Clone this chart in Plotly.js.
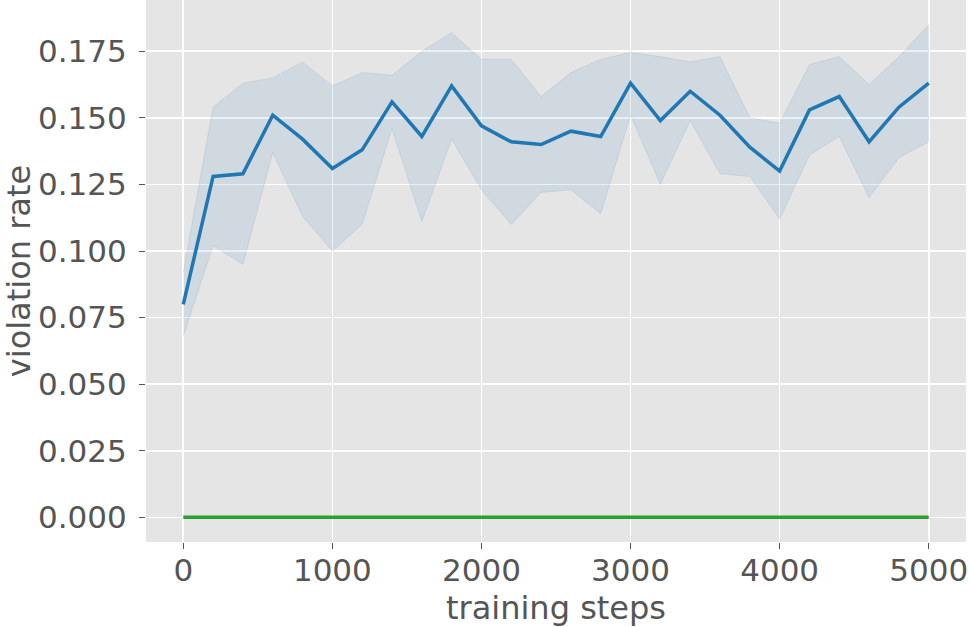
<!DOCTYPE html>
<html>
<head>
<meta charset="utf-8">
<script src="https://cdn.plot.ly/plotly-3.0.1.min.js"></script>
<style>html,body{margin:0;padding:0;background:#fff;}#chart{width:969px;height:627px;}</style>
</head>
<body>
<div id="chart"></div>
<script>
const steps = [0,200,400,600,800,1000,1200,1400,1600,1800,2000,2200,2400,2600,2800,3000,3200,3400,3600,3800,4000,4200,4400,4600,4800,5000];
const meanRate = [0.080,0.128,0.129,0.151,0.142,0.131,0.138,0.156,0.143,0.162,0.147,0.141,0.140,0.145,0.143,0.163,0.149,0.160,0.151,0.139,0.130,0.153,0.158,0.141,0.154,0.163];
const upperRate = [0.092,0.154,0.163,0.165,0.171,0.162,0.167,0.166,0.175,0.182,0.172,0.172,0.158,0.167,0.172,0.1745,0.173,0.171,0.173,0.150,0.148,0.170,0.173,0.1625,0.173,0.185];
const lowerRate = [0.068,0.102,0.095,0.137,0.113,0.100,0.110,0.146,0.111,0.142,0.123,0.110,0.122,0.123,0.114,0.151,0.125,0.149,0.129,0.128,0.112,0.136,0.143,0.120,0.135,0.141];
const baselineRate = [0,0,0,0,0,0,0,0,0,0,0,0,0,0,0,0,0,0,0,0,0,0,0,0,0,0];
const yTicks = [0,0.025,0.05,0.075,0.1,0.125,0.15,0.175];
const xTicks = [0,1000,2000,3000,4000,5000];

const bandX = steps.concat(steps.slice().reverse());
const bandY = upperRate.concat(lowerRate.slice().reverse());

const traces = [
  {x: bandX, y: bandY, type: 'scatter', mode: 'lines', fill: 'toself',
   fillcolor: 'rgba(31,119,180,0.1)', line: {color: 'rgba(31,119,180,0.12)', width: 1},
   hoverinfo: 'skip', showlegend: false},
  {x: steps, y: meanRate, type: 'scatter', mode: 'lines',
   line: {color: '#1f77b4', width: 3.5}, showlegend: false},
  {x: steps, y: baselineRate, type: 'scatter', mode: 'lines',
   line: {color: '#2ca02c', width: 3.5}, showlegend: false}
];

const tickFont = {family: 'DejaVu Sans', size: 31, color: '#555555'};
const titleFont = {family: 'DejaVu Sans', size: 32, color: '#555555'};

const layout = {
  width: 969, height: 627,
  margin: {l: 146, r: 3, t: 0, b: 85},
  paper_bgcolor: '#ffffff',
  plot_bgcolor: '#E5E5E5',
  showlegend: false,
  xaxis: {
    range: [-250, 5250], tickvals: xTicks, ticktext: xTicks.map(String),
    showgrid: true, gridcolor: '#ffffff', gridwidth: 1.6, zeroline: false, showline: false,
    ticks: 'outside', ticklen: 6, tickwidth: 1, tickcolor: '#555555',
    tickfont: tickFont, ticklabelstandoff: -5,
    title: {text: 'training steps', font: titleFont, standoff: 14},
    automargin: false
  },
  yaxis: {
    range: [-0.00925, 0.19425], tickvals: yTicks, ticktext: yTicks.map(v => v.toFixed(3)),
    showgrid: true, gridcolor: '#ffffff', gridwidth: 1.6, zeroline: false, showline: false,
    ticks: 'outside', ticklen: 6, tickwidth: 1, tickcolor: '#555555',
    tickfont: tickFont, ticklabelstandoff: 6,
    title: {text: 'violation rate', font: titleFont, standoff: 16},
    automargin: false
  }
};

Plotly.newPlot('chart', traces, layout, {displayModeBar: false, staticPlot: true});
</script>
</body>
</html>
